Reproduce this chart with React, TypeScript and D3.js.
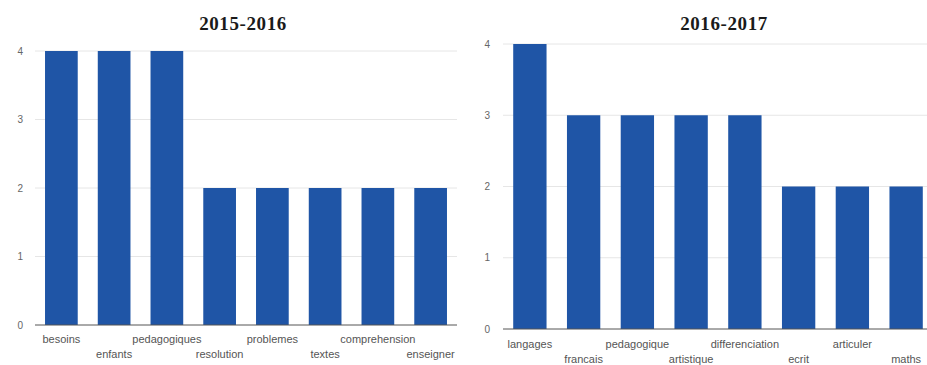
import React from "react";
import * as d3 from "d3";

// Word counts per school year
const words2015 = ["besoins", "enfants", "pedagogiques", "resolution", "problemes", "textes", "comprehension", "enseigner"];
const counts2015 = [4, 4, 4, 2, 2, 2, 2, 2];

const words2016 = ["langages", "francais", "pedagogique", "artistique", "differenciation", "ecrit", "articuler", "maths"];
const counts2016 = [4, 3, 3, 3, 3, 2, 2, 2];

const yTicks = [0, 1, 2, 3, 4];
const titles = ["2015-2016", "2016-2017"];

const W = 927;
const H = 365;
const BAR = "#1f55a6";

type PanelProps = {
  title: string;
  words: string[];
  counts: number[];
  x0: number;
  x1: number;
  yTop: number;
  yBase: number;
  gridEnd: number;
  tickX: number;
  titleX: number;
  labelY1: number;
  labelY2: number;
};

function Panel(p: PanelProps) {
  const x = d3.scaleBand<string>().domain(p.words).range([p.x0, p.x1]).paddingInner(0.38).paddingOuter(0.19);
  const y = d3.scaleLinear().domain([0, 4]).range([p.yBase, p.yTop]);
  return (
    <g>
      <text x={p.titleX} y={30} textAnchor="middle" fontFamily="Liberation Serif" fontWeight="bold" fontSize={19} letterSpacing={0.6} fill="#1a1a1a">
        {p.title}
      </text>
      {yTicks.map((t) => (
        <g key={t}>
          {t > 0 && <line x1={p.x0} x2={p.gridEnd} y1={y(t)} y2={y(t)} stroke="#e6e6e6" strokeWidth={1} />}
          <text x={p.tickX} y={y(t)} dy="0.35em" textAnchor="end" fontFamily="Liberation Sans" fontSize={10} fill="#666">
            {t}
          </text>
        </g>
      ))}
      {p.words.map((w, i) => (
        <rect key={w} x={x(w)} y={y(p.counts[i])} width={x.bandwidth()} height={y(0) - y(p.counts[i])} fill={BAR} />
      ))}
      <line x1={p.x0} x2={p.gridEnd} y1={y(0)} y2={y(0)} stroke="#555" strokeWidth={1} />
      {p.words.map((w, i) => (
        <text
          key={w}
          x={(x(w) as number) + x.bandwidth() / 2}
          y={i % 2 === 0 ? p.labelY1 : p.labelY2}
          dy="0.35em"
          textAnchor="middle"
          fontFamily="Liberation Sans"
          fontSize={11}
          fill="#555"
        >
          {w}
        </text>
      ))}
    </g>
  );
}

export default function App() {
  return (
    <svg width={W} height={H} style={{ position: "absolute", left: 0, top: 0, background: "#fff" }}>
      <rect width={W} height={H} fill="#fff" />
      <Panel
        title={titles[0]}
        words={words2015}
        counts={counts2015}
        x0={35}
        x1={457}
        yTop={51}
        yBase={325}
        gridEnd={457}
        tickX={23}
        titleX={243}
        labelY1={339}
        labelY2={354}
      />
      <Panel
        title={titles[1]}
        words={words2016}
        counts={counts2016}
        x0={503}
        x1={933}
        yTop={44}
        yBase={329}
        gridEnd={927}
        tickX={490}
        titleX={724}
        labelY1={344}
        labelY2={359}
      />
    </svg>
  );
}
